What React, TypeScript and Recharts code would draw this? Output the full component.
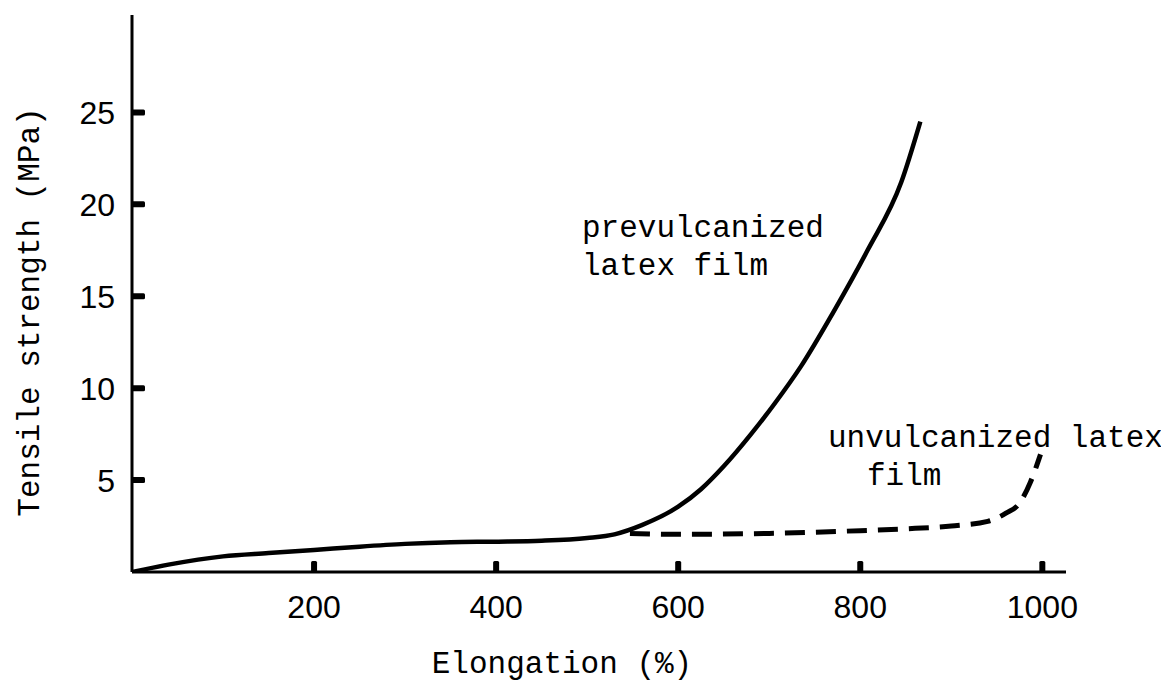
import React from 'react';
import { LineChart, Line, XAxis, YAxis } from 'recharts';

// elongation (%) vs tensile strength (MPa)
const prevulcElong = [0, 40, 100, 150, 200, 250, 300, 350, 400, 450, 500, 530, 560, 600, 625, 650, 680, 705, 735, 770, 808, 845, 866];
const prevulcStrength = [0, 0.4, 0.85, 1.03, 1.2, 1.38, 1.53, 1.62, 1.65, 1.7, 1.85, 2.05, 2.55, 3.55, 4.5, 5.75, 7.5, 9.1, 11.2, 14.1, 17.5, 21.2, 24.5];

const unvulcElong = [547, 600, 700, 800, 850, 900, 940, 960, 975, 987, 998];
const unvulcStrength = [2.1, 2.05, 2.1, 2.25, 2.35, 2.5, 2.75, 3.2, 3.75, 4.9, 6.4];

const xTicks = [200, 400, 600, 800, 1000];
const yTicks = [5, 10, 15, 20, 25];

const prevulcData = prevulcElong.map((x, i) => ({ x, y: prevulcStrength[i] }));
const unvulcData = unvulcElong.map((x, i) => ({ x, y: unvulcStrength[i] }));

const W = 1161;
const H = 673;
const mono = '"Liberation Mono", "DejaVu Sans Mono", monospace';
const tickFont = '"Liberation Sans", Arial, sans-serif';

// tick label + short inward mark (x is label pos = axis - 17)
const YTick = (props: any) => {
  const { x, y, payload } = props;
  return (
    <g>
      <rect x={x + 16} y={y - 3} width={14} height={6} rx={1.5} fill="#000" />
      <text x={x} y={y} dy="0.36em" textAnchor="end" fontFamily={tickFont} fontSize={32} fill="#000">
        {payload.value}
      </text>
    </g>
  );
};

// y is label baseline = axis + 46
const XTick = (props: any) => {
  const { x, y, payload } = props;
  return (
    <g>
      <rect x={x - 3} y={y - 57} width={6} height={12} rx={1.5} fill="#000" />
      <text x={x} y={y} textAnchor="middle" fontFamily={tickFont} fontSize={32} fill="#000">
        {payload.value}
      </text>
    </g>
  );
};

export default function App() {
  return (
    <div style={{ position: 'relative', width: W, height: H }}>
      <LineChart width={W} height={H} margin={{ top: 7, right: 103, left: 0, bottom: 9 }}>
        <XAxis
          type="number"
          dataKey="x"
          domain={[0, 1026]}
          ticks={xTicks}
          allowDataOverflow
          height={100}
          tickSize={0}
          tickMargin={46}
          tick={<XTick />}
          tickLine={false}
          axisLine={{ stroke: '#000', strokeWidth: 3 }}
        />
        <YAxis
          type="number"
          domain={[0, 30.3]}
          ticks={yTicks}
          allowDataOverflow
          width={124}
          tickSize={0}
          tickMargin={17}
          tick={<YTick />}
          tickLine={false}
          axisLine={{ stroke: '#000', strokeWidth: 3 }}
        />
        <Line
          data={prevulcData}
          dataKey="y"
          type="monotone"
          stroke="#000"
          strokeWidth={4.5}
          dot={false}
          isAnimationActive={false}
        />
        <Line
          data={unvulcData}
          dataKey="y"
          type="monotone"
          stroke="#000"
          strokeWidth={5}
          strokeDasharray="20 11"
          dot={false}
          isAnimationActive={false}
        />
      </LineChart>
      <svg width={W} height={H} style={{ position: 'absolute', left: 0, top: 0, pointerEvents: 'none' }}>
        <g fontFamily={mono} fontSize={31} fill="#000">
          <text x={574} y={229}>prevulcanized</text>
          <text x={574} y={267}>latex film</text>
          <text x={820} y={439}>unvulcanized latex</text>
          <text x={859} y={477}>film</text>
          <text x={554} y={665} textAnchor="middle">Elongation (%)</text>
          <text x={22} y={304} textAnchor="middle" dominantBaseline="central" transform="rotate(-90 22 304)">
            Tensile strength (MPa)
          </text>
        </g>
      </svg>
    </div>
  );
}
